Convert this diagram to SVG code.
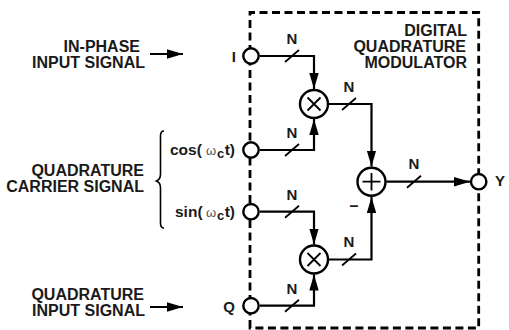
<svg xmlns="http://www.w3.org/2000/svg" width="509" height="330" viewBox="0 0 509 330">
<style>
text{font-family:"Liberation Sans",Arial,sans-serif;font-weight:700;font-size:16px;fill:#1a1a1a}
.e{text-anchor:end}.m{text-anchor:middle}
.n{font-size:15px}
.f{font-size:15.500px}
.l{fill:none;stroke:#000;stroke-width:2.200}
.c{fill:#fff;stroke:#000;stroke-width:2.400}
.t{stroke-width:1.800}
.w{font-weight:400;font-size:13px;fill:#555}
.b{font-size:13px}
</style>
<defs>
<marker id="a" markerUnits="userSpaceOnUse" markerWidth="16" markerHeight="10" refX="16" refY="5" orient="auto"><path d="M0 0.300L16 5L0 9.700Z" fill="#000"/></marker>
<g id="slash"><path class="l t" d="M-7 6L7 -6"/></g>
</defs>
<path id="boundary" fill="none" stroke="#000" stroke-width="2.800" stroke-dasharray="8 4.500" d="M250 328V12.500H478.700V328Z"/>
<g id="connectors">
<path class="l" marker-end="url(#a)" d="M150 54H183"/>
<path class="l" marker-end="url(#a)" d="M150 307H183"/>
<path class="l" marker-end="url(#a)" d="M260 56H314V89"/>
<path class="l" marker-end="url(#a)" d="M260 150H314V119"/>
<path class="l" marker-end="url(#a)" d="M329 104H371.500V166.500"/>
<path class="l" marker-end="url(#a)" d="M260 211.700H314V244.500"/>
<path class="l" marker-end="url(#a)" d="M260 305.700H314V274.500"/>
<path class="l" marker-end="url(#a)" d="M329 259.500H371.500V197"/>
<path class="l" marker-end="url(#a)" d="M386.500 181.700H470"/>
<use href="#slash" x="292" y="56"/><use href="#slash" x="292" y="150"/><use href="#slash" x="292" y="211.700"/><use href="#slash" x="292" y="305.700"/>
<use href="#slash" x="349" y="104"/><use href="#slash" x="349" y="259.500"/><use href="#slash" x="414" y="181.700"/>
<path fill="none" stroke="#000" stroke-width="1.600" d="M164 131C161 131 160.500 133 160.500 136V174C160.500 178 159 180 156.500 181C159 182 160.500 184 160.500 188V223C160.500 226 161 228 164 228"/>
</g>
<g id="port-i"><circle class="c" cx="251" cy="56" r="7.700"/><text class="e n" x="236" y="62">I</text></g>
<g id="port-cos"><circle class="c" cx="251" cy="150" r="7.700"/><text class="f" x="170" y="155">cos(</text><text class="w" x="206" y="155">ω</text><text class="b" x="217" y="158">c</text><text class="e f" x="235" y="155">t)</text></g>
<g id="port-sin"><circle class="c" cx="251" cy="211.700" r="7.700"/><text class="f" x="175" y="217">sin(</text><text class="w" x="206" y="217">ω</text><text class="b" x="217" y="220">c</text><text class="e f" x="235" y="217">t)</text></g>
<g id="port-q"><circle class="c" cx="251" cy="305.700" r="7.700"/><text class="e n" x="235" y="312">Q</text></g>
<g id="port-y"><circle class="c" cx="478.700" cy="181.700" r="7.700"/><text class="m n" x="500" y="186">Y</text></g>
<g id="mixer-top"><circle class="c" cx="314" cy="104" r="14"/><path class="l t" d="M307.500 97.500L320.500 110.500M320.500 97.500L307.500 110.500"/></g>
<g id="mixer-bottom"><circle class="c" cx="314" cy="259.500" r="14"/><path class="l t" d="M307.500 253L320.500 266M320.500 253L307.500 266"/></g>
<g id="adder"><circle class="c" cx="371.500" cy="181.700" r="14"/><path class="l t" d="M371.500 173V190.500M362.500 181.700H380.500"/></g>
<g id="labels">
<text class="e" x="140" y="52">IN-PHASE</text><text class="e" x="145" y="68">INPUT SIGNAL</text>
<text class="e" x="144" y="176">QUADRATURE</text><text class="e" x="144" y="192">CARRIER SIGNAL</text>
<text class="e" x="144" y="300">QUADRATURE</text><text class="e" x="145" y="316">INPUT SIGNAL</text>
<text class="e" x="467" y="36">DIGITAL</text><text class="e" x="466" y="52">QUADRATURE</text><text class="e" x="467" y="68">MODULATOR</text>
<text class="m n" x="292" y="44">N</text><text class="m n" x="292" y="138">N</text><text class="m n" x="292" y="200">N</text><text class="m n" x="292" y="294">N</text>
<text class="m n" x="349" y="92">N</text><text class="m n" x="349" y="247">N</text><text class="m n" x="414" y="169">N</text>
<text class="m" x="354" y="211">–</text>
</g>
</svg>
